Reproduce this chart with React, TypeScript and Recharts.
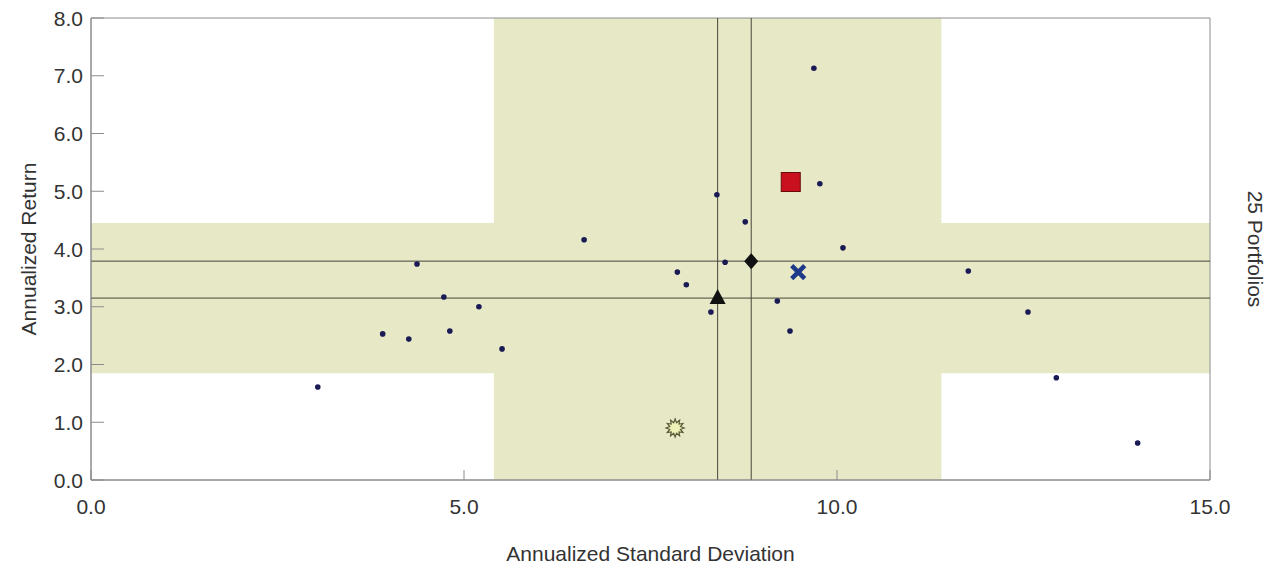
import React from 'react';
import { ScatterChart, Scatter, XAxis, YAxis, ReferenceArea, ReferenceLine, Label } from 'recharts';

// ---- data ----
const xTicks = [0, 5, 10, 15];
const yTicks = [0, 1, 2, 3, 4, 5, 6, 7, 8];
const xDomain = [0, 15];
const yDomain = [0, 8];

const portfolioSd = [3.04, 3.91, 4.26, 4.37, 4.73, 4.81, 5.2, 5.51, 6.61, 7.86, 7.98, 8.31, 8.39, 8.5, 8.77, 9.2, 9.37, 9.69, 9.77, 10.08, 11.76, 12.56, 12.94, 14.03];
const portfolioReturn = [1.61, 2.53, 2.44, 3.74, 3.17, 2.58, 3.0, 2.27, 4.16, 3.6, 3.38, 2.91, 4.94, 3.77, 4.47, 3.1, 2.58, 7.13, 5.13, 4.02, 3.62, 2.91, 1.77, 0.64];

const bandSd = [5.4, 11.4];
const bandReturn = [1.85, 4.45];
const refSd = [8.4, 8.85];
const refReturn = [3.15, 3.79];

const squareSd = [9.38];
const squareReturn = [5.16];
const crossSd = [9.48];
const crossReturn = [3.6];
const diamondSd = [8.85];
const diamondReturn = [3.79];
const triangleSd = [8.4];
const triangleReturn = [3.15];
const starSd = [7.83];
const starReturn = [0.9];

const toPoints = (xs: number[], ys: number[]) => xs.map((x, i) => ({ x, y: ys[i] }));

const portfolios = toPoints(portfolioSd, portfolioReturn);
const squarePts = toPoints(squareSd, squareReturn);
const crossPts = toPoints(crossSd, crossReturn);
const diamondPts = toPoints(diamondSd, diamondReturn);
const trianglePts = toPoints(triangleSd, triangleReturn);
const starPts = toPoints(starSd, starReturn);

// ---- style ----
const FONT = '"Liberation Sans", Arial, Helvetica, sans-serif';
const TEXT = '#333333';
const AXIS = '#8c8c8c';
const BAND = '#e7e9c6';
const REFLINE = '#45453a';
const FS = 21;

const YTick = (props: any) => {
  const { x, y, payload } = props;
  return (
    <g>
      <line x1={x + 8} x2={x + 21} y1={y} y2={y} stroke={AXIS} strokeWidth={1} />
      <text x={x} y={y} dy="0.36em" textAnchor="end" fontFamily={FONT} fontSize={FS} fill={TEXT}>
        {Number(payload.value).toFixed(1)}
      </text>
    </g>
  );
};

const XTick = (props: any) => {
  const { x, y, payload } = props;
  return (
    <g>
      <line x1={x} x2={x} y1={y - 20} y2={y - 30} stroke={AXIS} strokeWidth={1} />
      <text x={x} y={y} dy="0.68em" textAnchor="middle" fontFamily={FONT} fontSize={FS} fill={TEXT}>
        {Number(payload.value).toFixed(1)}
      </text>
    </g>
  );
};

const Dot = (props: any) => <circle cx={props.cx} cy={props.cy} r={2.8} fill="#1a1a55" />;

const Square = (props: any) => (
  <rect x={props.cx - 9.5} y={props.cy - 9.5} width={19} height={19} fill="#c8101e" stroke="#6a0a0a" strokeWidth={1} />
);

const Cross = (props: any) => {
  const { cx, cy } = props;
  const d = 6.5;
  return (
    <g stroke="#1f3a88" strokeWidth={4.5} strokeLinecap="butt">
      <line x1={cx - d} y1={cy - d} x2={cx + d} y2={cy + d} />
      <line x1={cx - d} y1={cy + d} x2={cx + d} y2={cy - d} />
    </g>
  );
};

const Diamond = (props: any) => {
  const { cx, cy } = props;
  return <polygon points={`${cx},${cy - 8} ${cx + 7},${cy} ${cx},${cy + 8} ${cx - 7},${cy}`} fill="#111" />;
};

const Triangle = (props: any) => {
  const { cx, cy } = props;
  return <polygon points={`${cx},${cy - 9} ${cx + 8},${cy + 6} ${cx - 8},${cy + 6}`} fill="#111" />;
};

const Star = (props: any) => {
  const { cx, cy } = props;
  const pts: string[] = [];
  const n = 12;
  for (let i = 0; i < n * 2; i++) {
    const r = i % 2 === 0 ? 9 : 5.5;
    const a = (Math.PI * i) / n - Math.PI / 2;
    pts.push(`${cx + r * Math.cos(a)},${cy + r * Math.sin(a)}`);
  }
  return <polygon points={pts.join(' ')} fill="#eef2b8" stroke="#5a5a3a" strokeWidth={1.2} />;
};

const YTitle = (props: any) => {
  const vb = props.viewBox || {};
  const x = vb.x + 28;
  const y = vb.y + vb.height / 2;
  return (
    <text x={x} y={y} transform={`rotate(-90, ${x}, ${y})`} textAnchor="middle" dominantBaseline="central" fontFamily={FONT} fontSize={FS} fill={TEXT}>
      Annualized Return
    </text>
  );
};

const RightTitle = (props: any) => {
  const vb = props.viewBox || {};
  const x = vb.x + 45;
  const y = vb.y + vb.height / 2;
  return (
    <text x={x} y={y} transform={`rotate(90, ${x}, ${y})`} textAnchor="middle" dominantBaseline="central" fontFamily={FONT} fontSize={FS} fill={TEXT}>
      25 Portfolios
    </text>
  );
};

const XTitle = (props: any) => {
  const vb = props.viewBox || {};
  const x = vb.x + vb.width / 2;
  const y = vb.y + 73;
  return (
    <text x={x} y={y} textAnchor="middle" dominantBaseline="central" fontFamily={FONT} fontSize={FS} fill={TEXT}>
      Annualized Standard Deviation
    </text>
  );
};

export default function App() {
  return (
    <div style={{ position: 'absolute', left: 0, top: 0, width: 1272, height: 569, background: '#fff' }}>
      <ScatterChart width={1272} height={569} margin={{ top: 18, right: 0, bottom: 0, left: 0 }}>
        <XAxis
          type="number"
          dataKey="x"
          domain={xDomain}
          ticks={xTicks}
          interval={0}
          allowDataOverflow
          height={89}
          tickSize={0}
          tickMargin={20}
          tick={<XTick />}
          axisLine={{ stroke: AXIS }}
          tickLine={false}
        >
          <Label content={<XTitle />} />
        </XAxis>
        <YAxis
          yAxisId="left"
          type="number"
          dataKey="y"
          domain={yDomain}
          ticks={yTicks}
          interval={0}
          allowDataOverflow
          width={91}
          tickSize={0}
          tickMargin={8}
          tick={<YTick />}
          axisLine={{ stroke: AXIS }}
          tickLine={false}
        >
          <Label content={<YTitle />} />
        </YAxis>
        <YAxis
          yAxisId="right"
          orientation="right"
          type="number"
          domain={yDomain}
          width={62}
          tick={false}
          axisLine={false}
          tickLine={false}
        >
          <Label content={<RightTitle />} />
        </YAxis>

        <ReferenceArea yAxisId="left" x1={bandSd[0]} x2={bandSd[1]} y1={yDomain[0]} y2={yDomain[1]} fill={BAND} fillOpacity={1} stroke="none" />
        <ReferenceArea yAxisId="left" x1={xDomain[0]} x2={xDomain[1]} y1={bandReturn[0]} y2={bandReturn[1]} fill={BAND} fillOpacity={1} stroke="none" />
        <ReferenceArea yAxisId="left" x1={xDomain[0]} x2={xDomain[1]} y1={yDomain[0]} y2={yDomain[1]} fill="none" stroke={AXIS} strokeWidth={1} />

        {refSd.map((v) => (
          <ReferenceLine key={'vx' + v} yAxisId="left" x={v} stroke={REFLINE} strokeWidth={1} />
        ))}
        {refReturn.map((v) => (
          <ReferenceLine key={'hy' + v} yAxisId="left" y={v} stroke={REFLINE} strokeWidth={1} />
        ))}

        <Scatter yAxisId="left" data={portfolios} shape={<Dot />} isAnimationActive={false} />
        <Scatter yAxisId="left" data={starPts} shape={<Star />} isAnimationActive={false} />
        <Scatter yAxisId="left" data={trianglePts} shape={<Triangle />} isAnimationActive={false} />
        <Scatter yAxisId="left" data={diamondPts} shape={<Diamond />} isAnimationActive={false} />
        <Scatter yAxisId="left" data={crossPts} shape={<Cross />} isAnimationActive={false} />
        <Scatter yAxisId="left" data={squarePts} shape={<Square />} isAnimationActive={false} />
      </ScatterChart>
    </div>
  );
}
